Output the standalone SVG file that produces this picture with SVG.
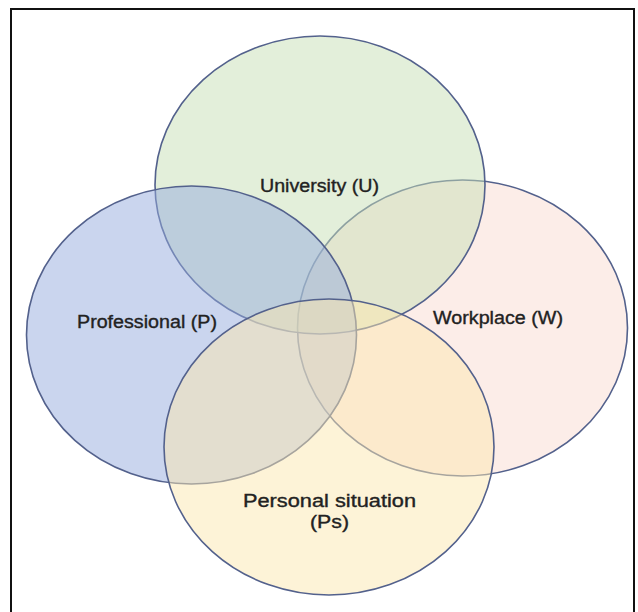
<svg xmlns="http://www.w3.org/2000/svg" width="638" height="612" viewBox="0 0 638 612">
  <style>
    .set { stroke: #53618c; stroke-width: 1.6; fill-opacity: 0.5; }
    .label { font-family: "Liberation Sans", Arial, sans-serif; font-size: 17.5px; fill: #222222; stroke: #222222; stroke-width: 0.35; text-anchor: middle; }
  </style>
  <rect x="0" y="0" width="638" height="612" fill="#ffffff"/>
  <!-- frame: open at the bottom edge -->
  <rect x="11" y="9" width="623" height="620" fill="none" stroke="#111111" stroke-width="2"/>

  <!-- sets, back to front -->
  <g id="workplace">
    <ellipse class="set" cx="462.5" cy="328" rx="165" ry="148" fill="#f9dbd1"/>
  </g>
  <g id="university">
    <ellipse class="set" cx="320" cy="185" rx="165" ry="149" fill="#c7dfb5"/>
  </g>
  <g id="professional">
    <ellipse class="set" cx="191.5" cy="335" rx="165" ry="149" fill="#95abdd"/>
  </g>
  <g id="personal-situation">
    <ellipse class="set" cx="329" cy="447" rx="165" ry="148" fill="#fbe7af"/>
  </g>

  <g id="labels">
    <text class="label" x="319.5" y="192" textLength="119" lengthAdjust="spacingAndGlyphs">University (U)</text>
    <text class="label" x="147" y="328" textLength="140" lengthAdjust="spacingAndGlyphs">Professional (P)</text>
    <text class="label" x="498" y="324" textLength="130" lengthAdjust="spacingAndGlyphs">Workplace (W)</text>
    <text class="label" x="329.5" y="507" textLength="173" lengthAdjust="spacingAndGlyphs">Personal situation</text>
    <text class="label" x="329.5" y="528" textLength="39" lengthAdjust="spacingAndGlyphs">(Ps)</text>
  </g>
</svg>
